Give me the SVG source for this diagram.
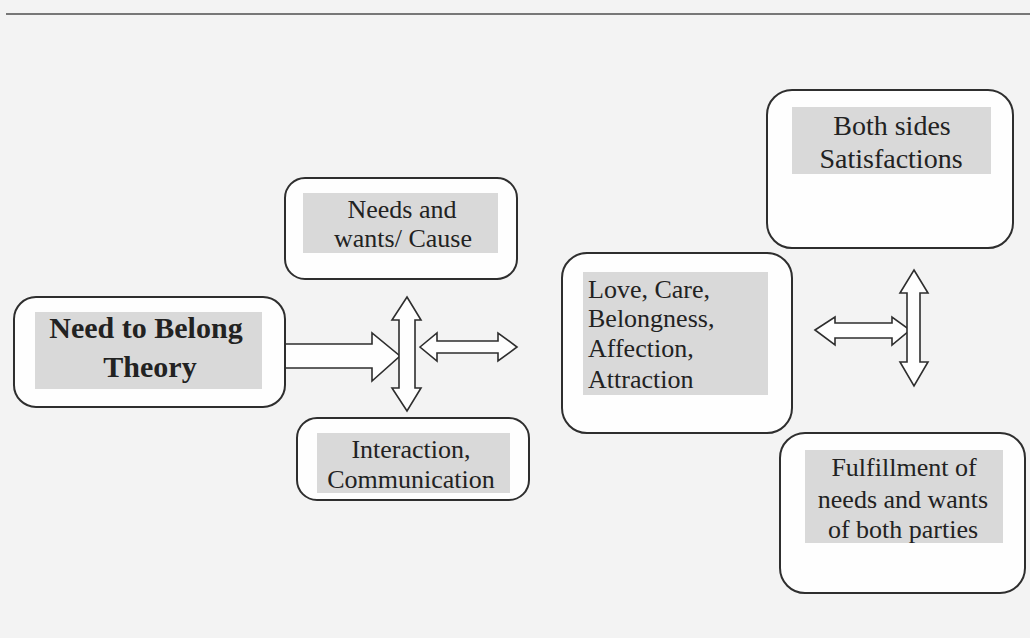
<svg xmlns="http://www.w3.org/2000/svg" width="1030" height="638" viewBox="0 0 1030 638">
<style>
.box{fill:#fefefe;stroke:#2e2e2e;stroke-width:2}
.lab{fill:#d9d9d9;stroke:none}
.t{font-family:"Liberation Serif","Times New Roman",serif;font-size:26px;fill:#222}
.c{text-anchor:middle}
.b{font-weight:bold;font-size:30px}
.arr{fill:#fefefe;stroke:#2e2e2e;stroke-width:1.6;stroke-linejoin:miter}
</style>
<rect x="0" y="0" width="1030" height="638" fill="#f3f3f3"/>
<line x1="6" y1="14" x2="1030" y2="14" stroke="#777" stroke-width="2"/>

<g id="connectors">
  <polygon class="arr" points="285,344 372,344 372,333 400,356 372,381 372,368 285,368"/>
  <polygon class="arr" points="420,347 437,333 437,341 498,341 498,333 517,347 498,361 498,353 437,353 437,361"/>
  <polygon class="arr" points="407,297 421,320 415,320 415,388 421,388 407,411 392,388 399,388 399,320 392,320"/>
  <polygon class="arr" points="815,330 835,317 835,323 892,323 892,317 910,330 892,345 892,338 835,338 835,345"/>
  <polygon class="arr" points="914,270 928,293 920,293 920,362 928,362 914,386 900,362 907,362 907,293 900,293"/>
</g>

<g id="node-need-to-belong">
  <rect class="box" x="14" y="297" width="271" height="110" rx="22"/>
  <rect class="lab" x="35" y="312" width="227" height="77"/>
  <text class="t c b" x="146" y="338">Need to Belong</text>
  <text class="t c b" x="150" y="377">Theory</text>
</g>

<g id="node-needs-wants">
  <rect class="box" x="285" y="178" width="232" height="101" rx="20"/>
  <rect class="lab" x="303" y="193" width="195" height="60"/>
  <text class="t c" x="402" y="218">Needs and</text>
  <text class="t c" x="403" y="247">wants/ Cause</text>
</g>

<g id="node-interaction">
  <rect class="box" x="297" y="418" width="232" height="82" rx="20"/>
  <rect class="lab" x="317" y="433" width="193" height="60"/>
  <text class="t c" x="411" y="458">Interaction,</text>
  <text class="t c" x="411" y="488">Communication</text>
</g>

<g id="node-love">
  <rect class="box" x="562" y="253" width="230" height="180" rx="25"/>
  <rect class="lab" x="583" y="272" width="185" height="123"/>
  <text class="t" x="588" y="298">Love, Care,</text>
  <text class="t" x="588" y="327">Belongness,</text>
  <text class="t" x="588" y="357">Affection,</text>
  <text class="t" x="588" y="388">Attraction</text>
</g>

<g id="node-both-sides">
  <rect class="box" x="767" y="90" width="246" height="158" rx="25"/>
  <rect class="lab" x="792" y="107" width="199" height="67"/>
  <text class="t c" x="892" y="135" style="font-size:28px">Both sides</text>
  <text class="t c" x="891" y="168" style="font-size:28px">Satisfactions</text>
</g>

<g id="node-fulfillment">
  <rect class="box" x="780" y="433" width="245" height="160" rx="25"/>
  <rect class="lab" x="805" y="450" width="198" height="93"/>
  <text class="t c" x="904" y="476">Fulfillment of</text>
  <text class="t c" x="903" y="508">needs and wants</text>
  <text class="t c" x="903" y="538">of both parties</text>
</g>
</svg>
